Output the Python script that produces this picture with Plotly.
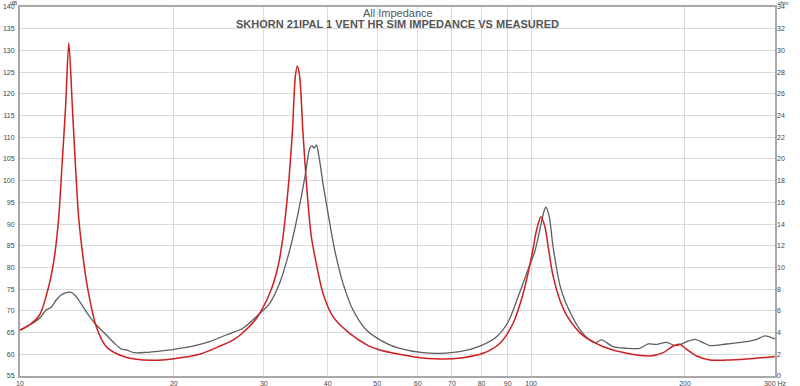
import plotly.graph_objects as go
import math

# Simulated impedance (ohm) vs frequency (Hz)
sim_freq = [10.0, 10.5, 10.92, 11.42, 11.68, 11.91, 12.09, 12.28, 12.46, 12.66, 12.83, 13.02, 13.28,
            13.58, 14.1, 14.75, 15.66, 16.89, 18.2, 20.0, 22.46, 24.6, 26.1, 27.0, 29.0, 30.8,
            31.97, 32.7, 33.44, 34.1, 34.57, 34.88, 35.25, 35.78, 36.43, 37.15, 38.1, 39.15,
            40.96, 44.16, 48.0, 50.56, 55.3, 58.7, 66.3, 73.6, 80.5, 86.8, 92.2, 96.5, 100.2,
            102.5, 104.5, 106.4, 108.0, 110.4, 113.8, 117.3, 124.5, 130.3, 138.4, 153.8, 170.8,
            181.3, 189.7, 195.0, 201.5, 210.8, 223.8, 241.3, 264.0, 300.0]
sim_ohm = [4.2, 4.8, 5.62, 8.54, 11.0, 14.7, 19.6, 24.8, 30.7, 24.8, 19.6, 14.7, 11.0,
           7.93, 4.54, 2.7, 1.94, 1.54, 1.45, 1.6, 2.0, 2.75, 3.3, 3.8, 5.3, 7.62,
           10.07, 12.84, 17.1, 22.4, 27.6, 28.57, 27.6, 22.4, 17.1, 12.84, 10.07, 7.62,
           5.47, 3.93, 2.8, 2.4, 2.0, 1.78, 1.57, 1.69, 2.09, 3.0, 4.86, 7.62, 11.0,
           13.46, 14.68, 13.76, 11.9, 9.2, 7.0, 5.6, 4.0, 3.32, 2.7, 2.09, 1.84,
           2.15, 2.76, 2.92, 2.46, 1.84, 1.47, 1.47, 1.57, 1.8]

# Measured impedance (ohm) vs frequency (Hz)
meas_freq = [10.0, 10.59, 10.92, 11.25, 11.51, 11.77, 12.13, 12.6, 12.88, 13.28, 13.68, 14.1,
             14.75, 15.31, 15.78, 16.14, 16.75, 17.67, 18.76, 20.0, 21.8, 23.5, 25.3, 27.3,
             29.0, 30.8, 32.2, 33.44, 34.45, 35.5, 36.2, 36.9, 37.25, 37.66, 38.0, 38.46,
             39.15, 40.05, 41.28, 42.85, 44.83, 47.6, 52.1, 55.3, 61.4, 66.3, 72.5, 79.4,
             85.6, 90.2, 94.3, 98.6, 101.7, 104.0, 105.9, 106.9, 108.5, 110.4, 113.8, 116.5,
             120.0, 124.5, 130.3, 133.5, 137.4, 144.7, 153.8, 163.2, 169.5, 176.0, 184.1, 191.1,
             197.0, 201.5, 209.2, 217.2, 223.8, 241.3, 264.0, 276.3, 286.8, 300.0]
meas_ohm = [4.24, 4.86, 5.32, 6.08, 6.33, 7.0, 7.56, 7.71, 7.31, 6.39, 5.47, 4.7,
            3.78, 3.01, 2.49, 2.4, 2.15, 2.18, 2.3, 2.46, 2.76, 3.16, 3.78, 4.4,
            5.47, 6.7, 8.54, 11.0, 13.46, 16.5, 18.7, 21.0, 21.2, 21.0, 21.3, 20.2,
            17.76, 15.0, 11.6, 8.54, 6.08, 4.24, 3.01, 2.55, 2.15, 2.09, 2.24, 2.76,
            3.62, 5.0, 7.3, 9.8, 11.5, 13.46, 15.14, 15.55, 14.68, 11.9, 8.4, 6.9,
            5.6, 4.3, 3.3, 3.05, 3.32, 2.7, 2.55, 2.55, 2.95, 2.92, 3.1, 2.8,
            2.95, 3.16, 3.38, 3.07, 2.8, 2.95, 3.16, 3.38, 3.69, 3.41]

x_tickvals = [10, 20, 30, 40, 50, 60, 70, 80, 90, 100, 200, 300]
x_ticktext = ["10", "20", "30", "40", "50", "60", "70", "80", "90", "100", "200", "300 Hz"]
db_ticks = list(range(55, 141, 5))
ohm_ticks = list(range(0, 35, 2))

title_line1 = "All Impedance"
title_line2 = "SKHORN 21IPAL 1 VENT HR SIM IMPEDANCE VS MEASURED"

fig = go.Figure()
# measured on left axis, sim on right ohm axis; both share the same ohm range
fig.add_trace(go.Scatter(x=meas_freq, y=meas_ohm, mode="lines", yaxis="y",
                         line=dict(color="#5e5e5e", width=1.3, shape="spline", smoothing=0.8),
                         showlegend=False))
fig.add_trace(go.Scatter(x=sim_freq, y=sim_ohm, mode="lines", yaxis="y2",
                         line=dict(color="#cc1f1f", width=1.5, shape="spline", smoothing=0.8),
                         showlegend=False))

font_family = "Liberation Sans, Arial, sans-serif"
tickfont = dict(family=font_family, size=7, color="#444444")
gridc = "#dadada"
linec = "#a8a8a8"

fig.update_layout(
    width=800, height=386,
    margin=dict(l=20, r=25, t=7, b=10, autoexpand=False),
    plot_bgcolor="white", paper_bgcolor="white",
    xaxis=dict(type="log", range=[1, math.log10(300)], tickvals=x_tickvals, ticktext=x_ticktext,
               showgrid=True, gridcolor=gridc, gridwidth=1, zeroline=False,
               showline=True, linecolor=linec, linewidth=2, mirror=True,
               ticks="", tickfont=tickfont, ticklabelstandoff=0, automargin=False),
    yaxis=dict(range=[0, 34], tickvals=ohm_ticks, ticktext=[str(v) for v in db_ticks],
               showgrid=True, gridcolor=gridc, gridwidth=1,
               zeroline=False, showline=True, linecolor=linec, linewidth=2, mirror=True,
               ticks="", tickfont=tickfont, ticklabelstandoff=2, automargin=False),
    yaxis2=dict(range=[0, 34], tickvals=ohm_ticks, overlaying="y", side="right", showgrid=False,
                zeroline=False, showline=False, ticks="", tickfont=tickfont,
                ticklabelstandoff=1, automargin=False),
    annotations=[
        dict(text=title_line1, xref="paper", yref="paper", x=0.5, y=0.9837, showarrow=False,
             xanchor="center", yanchor="middle",
             font=dict(family=font_family, size=11, color="#555555")),
        dict(text="<b>" + title_line2 + "</b>", xref="paper", yref="paper", x=0.5, y=0.9526,
             showarrow=False, xanchor="center", yanchor="middle",
             font=dict(family=font_family, size=11, color="#555555")),
        dict(text="dB", xref="paper", yref="paper", x=-0.002, y=1.0, showarrow=False,
             xanchor="right", yanchor="top", yshift=8, borderpad=0,
             font=dict(family=font_family, size=6, color="#444444")),
        dict(text="ohm", xref="paper", yref="paper", x=1.002, y=1.0, showarrow=False,
             xanchor="left", yanchor="top", yshift=8, borderpad=0,
             font=dict(family=font_family, size=5.5, color="#444444")),
    ],
)

fig.write_html("out.html", config={"displayModeBar": False},
               post_script="document.body.style.margin='0';document.body.style.overflow='hidden';")
